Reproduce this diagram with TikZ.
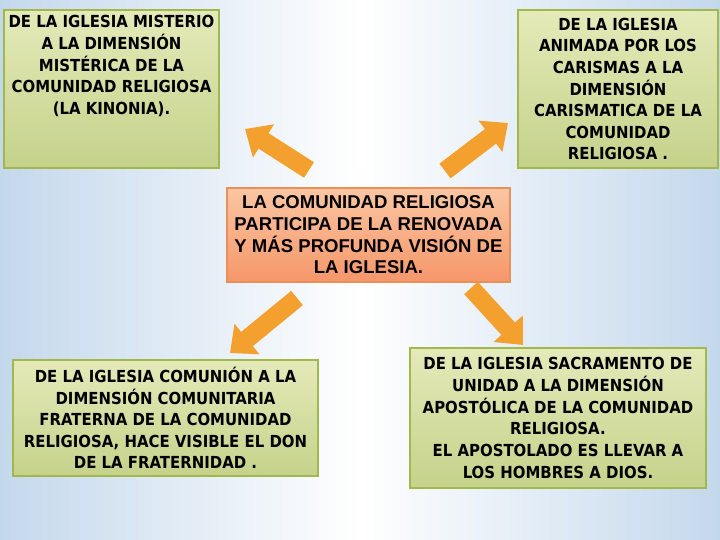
\documentclass[tikz,border=0pt]{standalone}
\usepackage{fontspec}
\newfontfamily\boxfont{DejaVu Sans Condensed}
\newfontfamily\centerfont{Liberation Sans}
\definecolor{bgblue}{HTML}{C4D8EC}
\definecolor{greentop}{HTML}{E4EAB9}
\definecolor{greenbot}{HTML}{C5D28A}
\definecolor{greenedge}{HTML}{A3B84C}
\definecolor{orangetop}{HTML}{FBC6A2}
\definecolor{orangebot}{HTML}{F6976A}
\definecolor{orangeedge}{HTML}{E8905A}
\definecolor{arrowfill}{HTML}{F3A02E}
\usetikzlibrary{arrows.meta,positioning}
\tikzset{
  greenbox/.style={draw=greenedge,line width=1.2pt,top color=greentop,bottom color=greenbot,inner sep=2pt},
  boxtext/.style={font=\boxfont\bfseries\fontsize{11.8}{15.4}\selectfont,align=center,text=black},
  centerbox/.style={draw=orangeedge,line width=0.8pt,top color=orangetop,bottom color=orangebot,
    font=\centerfont\bfseries\fontsize{13.2}{15.4}\selectfont,align=center,text=black},
  blockarr/.style={draw=arrowfill,line width=0.46cm,-{Triangle[length=0.55cm,width=0.95cm]}},
}

\begin{document}
\begin{tikzpicture}
  \useasboundingbox (0,0) rectangle (18,13.5);
  \fill[left color=bgblue,right color=bgblue,middle color=white] (0,0) rectangle (18,13.5);

  \node[centerbox,minimum width=7.075cm,minimum height=2.35cm] (vision) at (9.2125,7.625)
    {LA COMUNIDAD RELIGIOSA\\PARTICIPA DE LA RENOVADA\\Y MÁS PROFUNDA VISIÓN DE\\LA IGLESIA.};

  \node[greenbox,minimum width=5.375cm,minimum height=3.95cm] (misterio) at (2.7875,11.275) {};
  \node[boxtext,anchor=north] (misteriotxt) at ([yshift=-1pt]misterio.north)
    {DE LA IGLESIA MISTERIO\\A LA DIMENSIÓN\\MISTÉRICA DE LA\\COMUNIDAD RELIGIOSA\\(LA KINONIA).};
  \node[greenbox,boxtext,minimum width=5cm,minimum height=3.95cm] (carisma) at (15.45,11.275)
    {DE LA IGLESIA\\ANIMADA POR LOS\\CARISMAS A LA\\DIMENSIÓN\\CARISMATICA DE LA\\COMUNIDAD\\RELIGIOSA .};
  \node[greenbox,boxtext,minimum width=7.625cm,minimum height=2.9cm] (comunion) at (4.1375,3.05)
    {DE LA IGLESIA COMUNIÓN A LA\\DIMENSIÓN COMUNITARIA\\FRATERNA DE LA COMUNIDAD\\RELIGIOSA, HACE VISIBLE EL DON\\DE LA FRATERNIDAD .};
  \node[greenbox,boxtext,minimum width=7.4cm,minimum height=3.5cm] (sacramento) at (13.95,3.05)
    {DE LA IGLESIA SACRAMENTO DE\\UNIDAD A LA DIMENSIÓN\\APOSTÓLICA DE LA COMUNIDAD\\RELIGIOSA.\\EL APOSTOLADO ES LLEVAR A\\LOS HOMBRES A DIOS.};

  % arrow ends
  \coordinate (a1s) at (7.725,9.25);   \coordinate (a1e) at (6.125,10.275);
  \coordinate (a2s) at (11.125,9.225); \coordinate (a2e) at (12.7,10.425);
  \coordinate (a3s) at (7.425,6.05);   \coordinate (a3e) at (5.75,4.675);
  \coordinate (a4s) at (11.775,6.3);   \coordinate (a4e) at (13.075,4.875);

  \draw[blockarr] (a1s) -- (a1e);
  \draw[blockarr] (a2s) -- (a2e);
  \draw[blockarr] (a3s) -- (a3e);
  \draw[blockarr] (a4s) -- (a4e);
\end{tikzpicture}
\end{document}
